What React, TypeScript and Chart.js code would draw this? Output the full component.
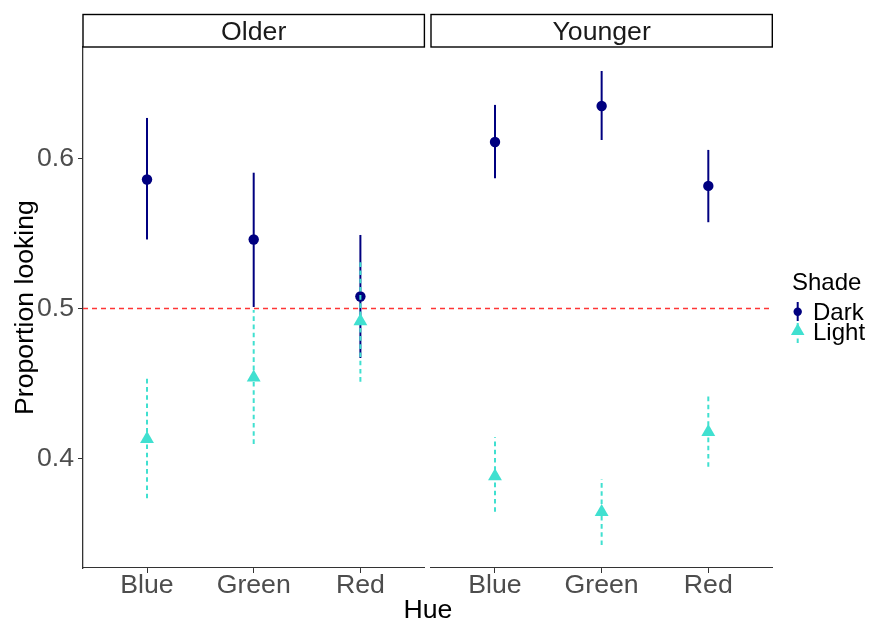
import React, { useEffect, useRef } from 'react';
import { Chart, registerables } from 'chart.js';
Chart.register(...registerables);

const FONT = "'Liberation Sans', Arial, Helvetica, sans-serif";

const hues = ['Blue', 'Green', 'Red'];
const facets = ['Older', 'Younger'];
const shades = ['Dark', 'Light'];
const yTicks = [0.4, 0.5, 0.6];
const refLine = 0.5;

const olderDarkMean = [0.586, 0.546, 0.508];
const olderDarkLow = [0.546, 0.501, 0.467];
const olderDarkHigh = [0.627, 0.5905, 0.549];
const olderLightMean = [0.413, 0.454, 0.4915];
const olderLightLow = [0.3735, 0.4097, 0.4512];
const olderLightHigh = [0.4535, 0.499, 0.5312];

const youngerDarkMean = [0.611, 0.635, 0.5817];
const youngerDarkLow = [0.5868, 0.6123, 0.5575];
const youngerDarkHigh = [0.6357, 0.6583, 0.6057];
const youngerLightMean = [0.3881, 0.3643, 0.4177];
const youngerLightLow = [0.3645, 0.3423, 0.3945];
const youngerLightHigh = [0.4141, 0.3863, 0.4428];

const DARK = '#000080';
const LIGHT = '#40E0D0';
const Y_MIN = 0.327;
const Y_MAX = 0.6743;
const LIGHT_DASH = [4.6, 3.6];

function pts(mean: number[], low: number[], high: number[]) {
  return hues.map((_, i) => ({ x: i, y: mean[i], yMin: low[i], yMax: high[i] }));
}

const errorBarPlugin = {
  id: 'errorBars',
  beforeDatasetsDraw(chart: any) {
    const { ctx, chartArea, scales } = chart;
    const py = scales.y.getPixelForValue(refLine);
    ctx.save();
    ctx.strokeStyle = '#ff3535';
    ctx.lineWidth = 1.3;
    ctx.setLineDash([5, 4]);
    ctx.beginPath();
    ctx.moveTo(chartArea.left, py);
    ctx.lineTo(chartArea.right, py);
    ctx.stroke();
    ctx.restore();
  },
  beforeDatasetDraw(chart: any, args: any) {
    const ds = chart.data.datasets[args.index];
    const { ctx, scales } = chart;
    ctx.save();
    ctx.strokeStyle = ds.errColor;
    ctx.lineWidth = ds.errWidth;
    ctx.setLineDash(ds.errDash);
    ctx.lineCap = 'butt';
    ds.data.forEach((p: any) => {
      const px = scales.x.getPixelForValue(p.x);
      ctx.beginPath();
      ctx.moveTo(px, scales.y.getPixelForValue(p.yMin));
      ctx.lineTo(px, scales.y.getPixelForValue(p.yMax));
      ctx.stroke();
    });
    ctx.restore();
  },
};

const stripPlugin = {
  id: 'strip',
  afterDraw(chart: any) {
    const { ctx, chartArea } = chart;
    const label = chart.options.plugins.strip.label;
    const top = 14.5;
    ctx.save();
    ctx.fillStyle = '#ffffff';
    ctx.fillRect(chartArea.left, top, chartArea.right - chartArea.left, chartArea.top - top);
    ctx.strokeStyle = '#000000';
    ctx.lineWidth = 1.4;
    ctx.strokeRect(chartArea.left, top, chartArea.right - chartArea.left, chartArea.top - top);
    ctx.fillStyle = '#1a1a1a';
    ctx.font = `26.67px ${FONT}`;
    ctx.textAlign = 'center';
    ctx.textBaseline = 'alphabetic';
    ctx.fillText(label, (chartArea.left + chartArea.right) / 2, 40);
    ctx.restore();
  },
};

const legendPlugin = {
  id: 'shadeLegend',
  afterDraw(chart: any) {
    const o = chart.options.plugins.shadeLegend;
    if (!o || !o.show) return;
    const off = o.offsetX;
    const { ctx } = chart;
    ctx.save();
    ctx.fillStyle = '#000000';
    ctx.font = `24px ${FONT}`;
    ctx.textAlign = 'left';
    ctx.textBaseline = 'alphabetic';
    ctx.fillText('Shade', 792 - off, 290);
    ctx.fillText(shades[0], 813 - off, 320);
    ctx.fillText(shades[1], 813 - off, 340);
    const sx = 797.7 - off;
    ctx.strokeStyle = DARK;
    ctx.lineWidth = 2.0;
    ctx.setLineDash([]);
    ctx.beginPath();
    ctx.moveTo(sx, 302);
    ctx.lineTo(sx, 321);
    ctx.stroke();
    ctx.fillStyle = DARK;
    ctx.beginPath();
    ctx.arc(sx, 311.7, 4.2, 0, Math.PI * 2);
    ctx.fill();
    ctx.strokeStyle = LIGHT;
    ctx.setLineDash(LIGHT_DASH);
    ctx.beginPath();
    ctx.moveTo(sx, 343);
    ctx.lineTo(sx, 323);
    ctx.stroke();
    ctx.setLineDash([]);
    ctx.fillStyle = LIGHT;
    const r = 7.8;
    const cy = 331;
    ctx.beginPath();
    ctx.moveTo(sx, cy - r);
    ctx.lineTo(sx + r * Math.sin((2 * Math.PI) / 3), cy + r / 2);
    ctx.lineTo(sx - r * Math.sin((2 * Math.PI) / 3), cy + r / 2);
    ctx.closePath();
    ctx.fill();
    ctx.restore();
  },
};

function makeChart(canvas: HTMLCanvasElement, facet: number) {
  const isLeft = facet === 0;
  const dark = isLeft ? pts(olderDarkMean, olderDarkLow, olderDarkHigh) : pts(youngerDarkMean, youngerDarkLow, youngerDarkHigh);
  const light = isLeft ? pts(olderLightMean, olderLightLow, olderLightHigh) : pts(youngerLightMean, youngerLightLow, youngerLightHigh);
  return new Chart(canvas, {
    type: 'scatter',
    data: {
      datasets: [
        {
          label: shades[0],
          data: dark,
          order: 2,
          pointStyle: 'circle',
          pointRadius: 5.2,
          pointHoverRadius: 5.2,
          backgroundColor: DARK,
          borderColor: DARK,
          borderWidth: 0,
          errColor: DARK,
          errWidth: 2.0,
          errDash: [],
        } as any,
        {
          label: shades[1],
          data: light,
          order: 1,
          pointStyle: 'triangle',
          pointRadius: 8,
          pointHoverRadius: 8,
          backgroundColor: LIGHT,
          borderColor: LIGHT,
          borderWidth: 0,
          errColor: LIGHT,
          errWidth: 2.0,
          errDash: LIGHT_DASH,
        } as any,
      ],
    },
    options: {
      responsive: false,
      animation: false,
      devicePixelRatio: 1,
      events: [],
      layout: {
        autoPadding: false,
        padding: isLeft ? { left: 0, right: 1.6, top: 47, bottom: 0 } : { left: 3, right: 97.7, top: 47, bottom: 0 },
      },
      plugins: {
        legend: { display: false },
        tooltip: { enabled: false },
        strip: { label: facets[facet] },
        shadeLegend: { show: !isLeft, offsetX: 428 },
      } as any,
      scales: {
        x: {
          type: 'linear',
          min: -0.6,
          max: 2.6,
          afterBuildTicks: (s: any) => {
            s.ticks = hues.map((_, i) => ({ value: i }));
          },
          afterFit: (s: any) => {
            s.height = 53;
            s.paddingLeft = 0;
            s.paddingRight = 0;
          },
          ticks: {
            autoSkip: false,
            maxRotation: 0,
            color: '#4D4D4D',
            padding: -1,
            font: { family: FONT, size: 26.67, lineHeight: 1 },
            callback: (v: any) => hues[Math.round(Number(v))],
          },
          grid: { drawOnChartArea: false, drawTicks: true, tickLength: 5, color: '#333333', lineWidth: 1 },
          border: { display: true, color: '#333333', width: 1.1 },
        },
        y: {
          type: 'linear',
          display: isLeft,
          min: Y_MIN,
          max: Y_MAX,
          afterBuildTicks: (s: any) => {
            s.ticks = yTicks.map((v) => ({ value: v }));
          },
          afterFit: (s: any) => {
            s.width = isLeft ? 83 : 0;
            s.paddingTop = 0;
            s.paddingBottom = 0;
          },
          ticks: {
            color: '#4D4D4D',
            padding: 4,
            font: { family: FONT, size: 26.67 },
            callback: (v: any) => Number(v).toFixed(1),
          },
          title: {
            display: true,
            text: 'Proportion looking',
            color: '#000000',
            font: { family: FONT, size: 26.67, lineHeight: 1.2 },
            padding: { top: 10, bottom: 0 },
          },
          grid: { drawOnChartArea: false, drawTicks: true, tickLength: 5, color: '#333333', lineWidth: 1 },
          border: { display: true, color: '#333333', width: 1.3 },
        },
      },
    } as any,
    plugins: [errorBarPlugin, stripPlugin, legendPlugin] as any,
  });
}

export default function App() {
  const leftRef = useRef<HTMLCanvasElement>(null);
  const rightRef = useRef<HTMLCanvasElement>(null);
  useEffect(() => {
    const a = makeChart(leftRef.current!, 0);
    const b = makeChart(rightRef.current!, 1);
    return () => {
      a.destroy();
      b.destroy();
    };
  }, []);
  return (
    <div style={{ position: 'absolute', left: 0, top: 0, width: 870, height: 621, background: '#ffffff', overflow: 'hidden' }}>
      <canvas ref={leftRef} width={426} height={621} style={{ position: 'absolute', left: 0, top: 0, width: 426, height: 621 }} />
      <canvas ref={rightRef} width={442} height={621} style={{ position: 'absolute', left: 428, top: 0, width: 442, height: 621 }} />
      <div
        style={{
          position: 'absolute',
          left: 0,
          width: 856,
          top: 593.8,
          textAlign: 'center',
          fontFamily: FONT,
          fontSize: '26.67px',
          lineHeight: '30px',
          color: '#000000',
        }}
      >
        Hue
      </div>
    </div>
  );
}
